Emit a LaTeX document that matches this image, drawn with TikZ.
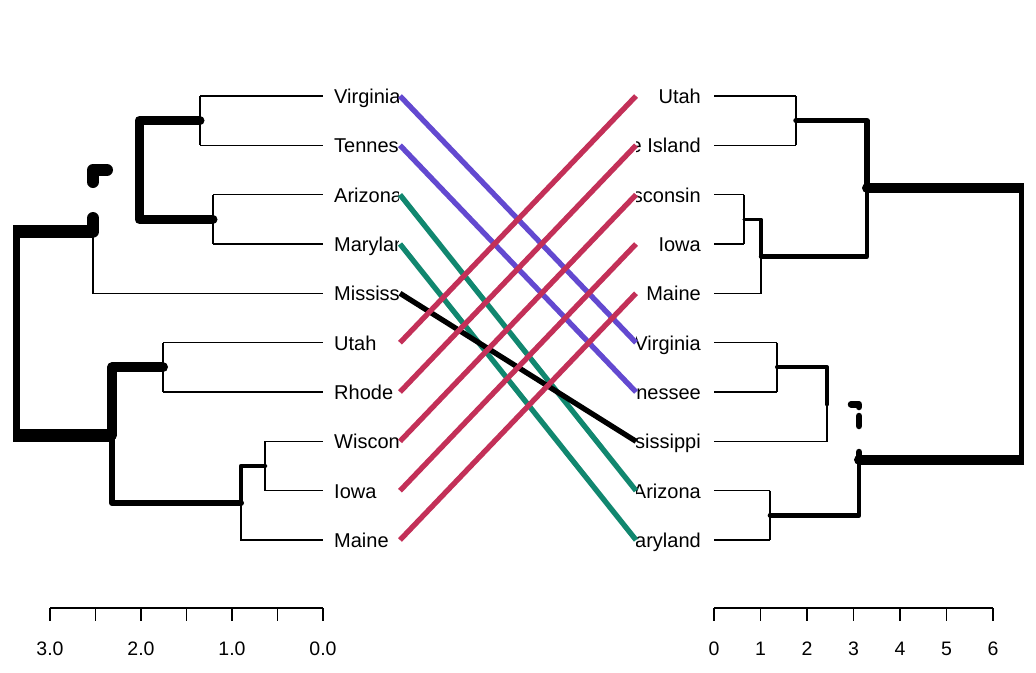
\documentclass[tikz,border=0pt]{standalone}
\usepackage{fontspec}
\setmainfont{Liberation Sans}
\definecolor{cpurple}{RGB}{99,73,208}
\definecolor{cteal}{RGB}{17,135,111}
\definecolor{ccrimson}{RGB}{195,48,88}
\tikzset{
  thin branch/.style={line width=1.5pt, line cap=butt},
  br/.style={line width=#1, line cap=round, line join=round},
  dashpiece/.style={line width=#1, line cap=round, line join=round},
  leaflabel/.style={inner sep=0pt, font=\fontsize{20}{23}\selectfont},
  axlabel/.style={inner sep=0pt, anchor=base, font=\fontsize{19.5}{22}\selectfont},
  link/.style={line width=5.3pt, line cap=butt},
}
\begin{document}
\begin{tikzpicture}[x=1pt,y=-1pt]
\useasboundingbox (0,0) rectangle (1036,672);
\fill[white] (0,0) rectangle (1036,672);

% leaf y positions
\def\ya{96}\def\yb{145.3}\def\yc{194.7}\def\yd{244}\def\ye{293.3}
\def\yf{342.7}\def\yg{392}\def\yh{441.3}\def\yi{490.7}\def\yj{540}

% ---------------- LEFT TREE ----------------
\draw[thin branch] (200,\ya) -- (323,\ya);
\draw[thin branch] (200,\yb) -- (323,\yb);
\draw[thin branch] (200,\ya) -- (200,\yb);
\draw[thin branch] (213,\yc) -- (323,\yc);
\draw[thin branch] (213,\yd) -- (323,\yd);
\draw[thin branch] (213,\yc) -- (213,\yd);
\draw[thin branch] (93,231.7) -- (93,\ye) -- (323,\ye);
\draw[thin branch] (163,\yf) -- (323,\yf);
\draw[thin branch] (163,\yg) -- (323,\yg);
\draw[thin branch] (163,\yf) -- (163,\yg);
\draw[thin branch] (265,\yh) -- (323,\yh);
\draw[thin branch] (265,\yi) -- (323,\yi);
\draw[thin branch] (265,\yh) -- (265,\yi);
\draw[thin branch] (241,503) -- (241,\yj) -- (323,\yj);
% upper cluster
\draw[br=9pt] (200,120.7) -- (139,120.7) -- (139,170);
\draw[br=9pt] (139,170) -- (139,219.3) -- (213,219.3);
% dashed edge (93,231.7) -> (139,170)
\draw[dashpiece=12pt] (93,231.7) -- (93,218);
\draw[dashpiece=12pt] (93,182) -- (93,170) -- (107,170);
% root
\draw[line width=13pt, line cap=butt] (13,231.7) -- (93,231.7);
\draw[line width=7pt, line cap=butt] (16.5,231.7) -- (16.5,435.2);
\draw[line width=13pt, line cap=butt] (13,435.2) -- (110,435.2);
\fill (110,435.2) circle (6.5pt);
% lower cluster
\draw[br=10pt] (112,435.2) -- (112,367.3) -- (163,367.3);
\draw[br=6pt] (112,435.2) -- (112,503) -- (241,503);
\draw[br=4.5pt] (241,503) -- (241,466) -- (265,466);

% left labels (clipped)
\begin{scope}
\clip (0,0) rectangle (398.5,672);
\node[leaflabel, anchor=base west] (lVirginia) at (334,\ya+7.5) {Virginia};
\node[leaflabel, anchor=base west] (lTennessee) at (334,\yb+7.5) {Tennessee};
\node[leaflabel, anchor=base west] (lArizona) at (334,\yc+7.5) {Arizona};
\node[leaflabel, anchor=base west] (lMaryland) at (334,\yd+7.5) {Maryland};
\node[leaflabel, anchor=base west] (lMississippi) at (334,\ye+7.5) {Mississippi};
\node[leaflabel, anchor=base west] (lUtah) at (334,\yf+7.5) {Utah};
\node[leaflabel, anchor=base west] (lRhode) at (334,\yg+7.5) {Rhode Island};
\node[leaflabel, anchor=base west] (lWisconsin) at (334,\yh+7.5) {Wisconsin};
\node[leaflabel, anchor=base west] (lIowa) at (334,\yi+7.5) {Iowa};
\node[leaflabel, anchor=base west] (lMaine) at (334,\yj+7.5) {Maine};
\end{scope}

% ---------------- RIGHT TREE ----------------
\draw[thin branch] (714,\ya) -- (796,\ya);
\draw[thin branch] (714,\yb) -- (796,\yb);
\draw[thin branch] (796,\ya) -- (796,\yb);
\draw[thin branch] (714,\yc) -- (744,\yc);
\draw[thin branch] (714,\yd) -- (744,\yd);
\draw[thin branch] (744,\yc) -- (744,\yd);
\draw[thin branch] (761,256.5) -- (761,\ye) -- (714,\ye);
\draw[thin branch] (714,\yf) -- (777,\yf);
\draw[thin branch] (714,\yg) -- (777,\yg);
\draw[thin branch] (777,\yf) -- (777,\yg);
\draw[thin branch] (827,404.3) -- (827,\yh) -- (714,\yh);
\draw[thin branch] (714,\yi) -- (770,\yi);
\draw[thin branch] (714,\yj) -- (770,\yj);
\draw[thin branch] (770,\yi) -- (770,\yj);
% upper cluster
\draw[br=5.5pt] (796,120.7) -- (867,120.7) -- (867,188);
\draw[br=4.3pt] (867,188) -- (867,256.5) -- (761,256.5);
\draw[br=3.5pt] (761,256.5) -- (761,219.3) -- (744,219.3);
% root
\draw[line width=10pt, line cap=butt] (867,188) -- (1024,188);
\fill (867,188) circle (5pt);
\draw[line width=5pt, line cap=butt] (1021.5,183) -- (1021.5,464);
\draw[line width=10pt, line cap=butt] (1024,459.8) -- (859,459.8);
\fill (859,459.8) circle (5pt);
% lower cluster
\draw[br=4pt] (827,404.3) -- (827,367.3) -- (777,367.3);
\draw[br=4.7pt] (859,459.8) -- (859,515.3) -- (770,515.3);
% dashed edge (859,459.8) -> (827,404.3)
\draw[dashpiece=6.5pt] (859,459.8) -- (859,452);
\draw[dashpiece=6.5pt] (859,426) -- (859,416);
\draw[dashpiece=6.5pt] (859,407) -- (859,404.3) -- (851,404.3);

% right labels (clipped)
\begin{scope}
\clip (636,0) rectangle (1036,672);
\node[leaflabel, anchor=base east] (rUtah) at (701,\ya+7.5) {Utah};
\node[leaflabel, anchor=base east] (rRhode) at (701,\yb+7.5) {Rhode Island};
\node[leaflabel, anchor=base east] (rWisconsin) at (701,\yc+7.5) {Wisconsin};
\node[leaflabel, anchor=base east] (rIowa) at (701,\yd+7.5) {Iowa};
\node[leaflabel, anchor=base east] (rMaine) at (701,\ye+7.5) {Maine};
\node[leaflabel, anchor=base east] (rVirginia) at (701,\yf+7.5) {Virginia};
\node[leaflabel, anchor=base east] (rTennessee) at (701,\yg+7.5) {Tennessee};
\node[leaflabel, anchor=base east] (rMississippi) at (701,\yh+7.5) {Mississippi};
\node[leaflabel, anchor=base east] (rArizona) at (701,\yi+7.5) {Arizona};
\node[leaflabel, anchor=base east] (rMaryland) at (701,\yj+7.5) {Maryland};
\end{scope}

% ---------------- CONNECTORS ----------------
\coordinate (la) at (400,\ya); \coordinate (lb) at (400,\yb);
\coordinate (lc) at (400,\yc); \coordinate (ld) at (400,\yd);
\coordinate (le) at (400,\ye); \coordinate (lf) at (400,\yf);
\coordinate (lg) at (400,\yg); \coordinate (lh) at (400,\yh);
\coordinate (li) at (400,\yi); \coordinate (lj) at (400,\yj);
\coordinate (ra) at (636,\ya); \coordinate (rb) at (636,\yb);
\coordinate (rc) at (636,\yc); \coordinate (rd) at (636,\yd);
\coordinate (re) at (636,\ye); \coordinate (rf) at (636,\yf);
\coordinate (rg) at (636,\yg); \coordinate (rh) at (636,\yh);
\coordinate (ri) at (636,\yi); \coordinate (rj) at (636,\yj);
\draw[link, cpurple] (la) -- (rf);
\draw[link, cpurple] (lb) -- (rg);
\draw[link, cteal] (lc) -- (ri);
\draw[link, cteal] (ld) -- (rj);
\draw[link, black] (le) -- (rh);
\draw[link, ccrimson] (lf) -- (ra);
\draw[link, ccrimson] (lg) -- (rb);
\draw[link, ccrimson] (lh) -- (rc);
\draw[link, ccrimson] (li) -- (rd);
\draw[link, ccrimson] (lj) -- (re);

% ---------------- AXES ----------------
\draw[line width=1.8pt] (50,608) -- (323,608);
\foreach \k in {0,...,6} {
  \draw[line width=1.8pt] ({50+45.5*\k},608) -- ({50+45.5*\k},621);
}
\node[axlabel] (lx3) at (50,655) {3.0};
\node[axlabel] (lx2) at (141,655) {2.0};
\node[axlabel] (lx1) at (232,655) {1.0};
\node[axlabel] (lx0) at (323,655) {0.0};
\draw[line width=1.8pt] (714,608) -- (993,608);
\foreach \k in {0,...,6} {
  \draw[line width=1.8pt] ({714+46.5*\k},608) -- ({714+46.5*\k},621);
  \node[axlabel] (rx\k) at ({714+46.5*\k},655) {\k};
}
\end{tikzpicture}
\end{document}
